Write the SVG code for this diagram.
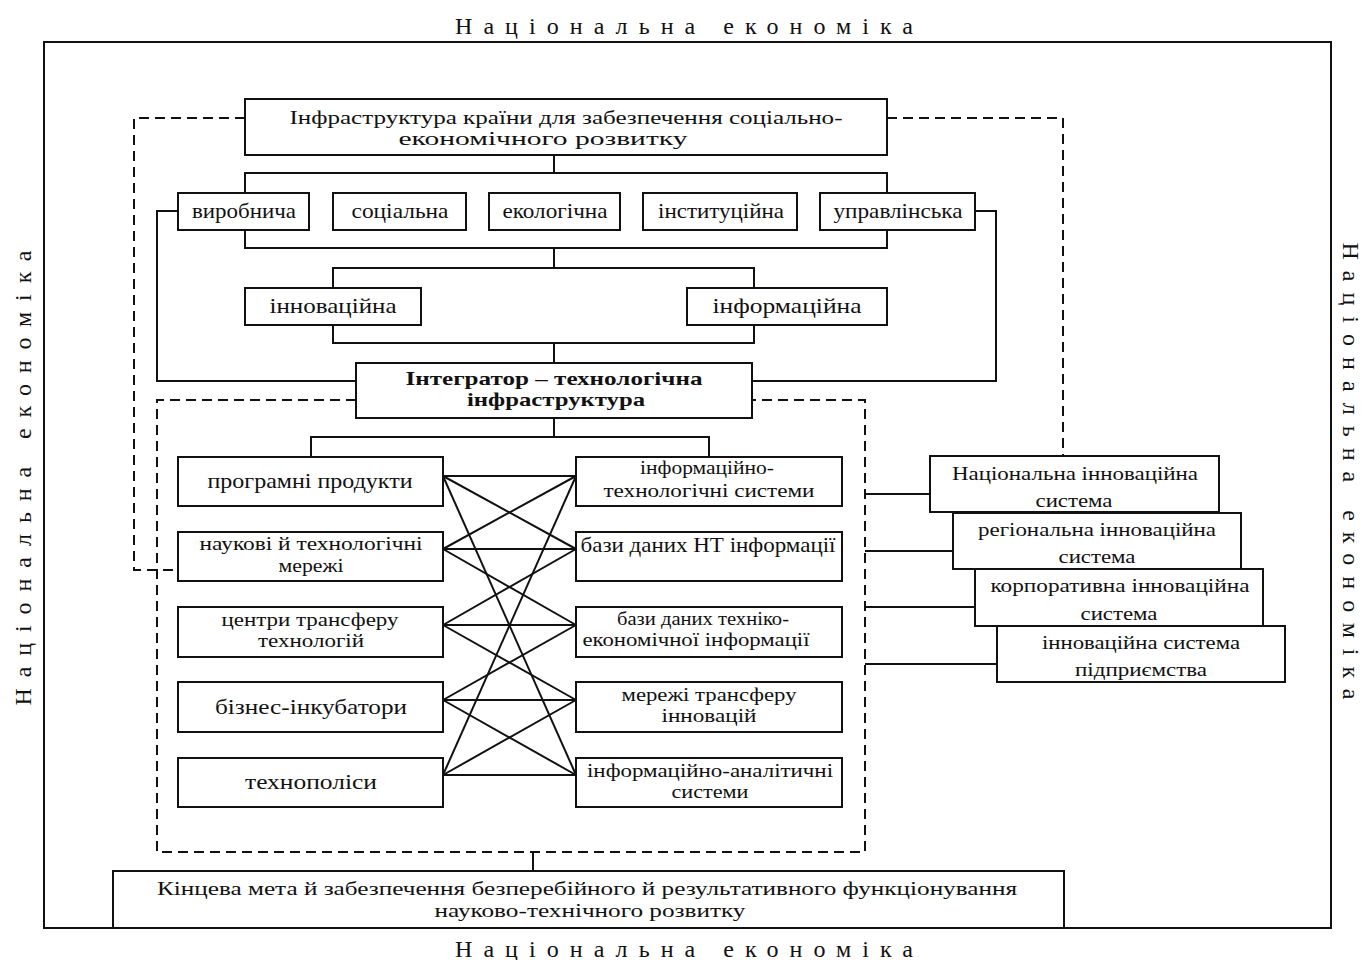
<svg xmlns="http://www.w3.org/2000/svg" width="1365" height="960" viewBox="0 0 1365 960">
<style>
.b{fill:#fff;stroke:#111;stroke-width:2}
.l{fill:none;stroke:#111;stroke-width:2}
.d{fill:none;stroke:#111;stroke-width:2;stroke-dasharray:10 6}
.x{stroke:#111;stroke-width:2}
text{font-family:"Liberation Serif","Times New Roman",serif;font-size:21px;fill:#111;text-anchor:middle}
text.s{font-size:19px}
.t{font-size:24px}
.bo{font-weight:bold}
</style>
<rect width="1365" height="960" fill="#fff"/>
<g id="frame">
<rect x="44" y="42" width="1287" height="886" class="l"/>
<text class="t" x="684" y="34" textLength="458" lengthAdjust="spacing">Національна економіка</text>
<text class="t" x="684" y="957" textLength="458" lengthAdjust="spacing">Національна економіка</text>
<text class="t" transform="translate(31,478) rotate(-90)" x="0" y="0" textLength="455" lengthAdjust="spacing">Національна економіка</text>
<text class="t" transform="translate(1343,471) rotate(90)" x="0" y="0" textLength="457" lengthAdjust="spacing">Національна економіка</text>
</g>
<g id="connectors">
<path class="d" d="M245 118H134V570H178"/>
<path class="d" d="M887 118H1063V456"/>
<path class="l" d="M554 155V173M245 193V173H887V193"/>
<path class="l" d="M245 230V248H887V230M554 248V268M333 288V268H754V288"/>
<path class="l" d="M333 325V343H754V325M554 343V363"/>
<path class="l" d="M178 211H157V381H356M975 211H996V381H752"/>
<path class="d" d="M356 400H157V852H865V400H752"/>
<path class="l" d="M554 418V437M311 457V437H709V457"/>
<path class="l" d="M533 852V871"/>
<path class="l" d="M865 494H930M865 551H953M865 607H975M865 664H997"/>
<g id="cross">
<line class="x" x1="443" y1="476" x2="576" y2="476"/>
<line class="x" x1="443" y1="476" x2="576" y2="549"/>
<line class="x" x1="443" y1="476" x2="576" y2="775"/>
<line class="x" x1="443" y1="549" x2="576" y2="476"/>
<line class="x" x1="443" y1="549" x2="576" y2="549"/>
<line class="x" x1="443" y1="549" x2="576" y2="625"/>
<line class="x" x1="443" y1="625" x2="576" y2="549"/>
<line class="x" x1="443" y1="625" x2="576" y2="625"/>
<line class="x" x1="443" y1="625" x2="576" y2="700"/>
<line class="x" x1="443" y1="700" x2="576" y2="625"/>
<line class="x" x1="443" y1="700" x2="576" y2="700"/>
<line class="x" x1="443" y1="700" x2="576" y2="775"/>
<line class="x" x1="443" y1="775" x2="576" y2="700"/>
<line class="x" x1="443" y1="775" x2="576" y2="775"/>
<line class="x" x1="443" y1="775" x2="576" y2="476"/>
</g>
</g>
<g id="n-infra">
<rect class="b" x="245" y="99" width="642" height="56"/>
<text class="s" x="566" y="124" font-size="20" textLength="553" lengthAdjust="spacingAndGlyphs">Інфраструктура країни для забезпечення соціально-</text>
<text class="s" x="543" y="145" textLength="289" lengthAdjust="spacingAndGlyphs">економічного розвитку</text>
</g>
<g id="n-vyrob"><rect class="b" x="178" y="193" width="131" height="37"/><text x="244" y="218" textLength="104" lengthAdjust="spacingAndGlyphs">виробнича</text></g>
<g id="n-soc"><rect class="b" x="333" y="193" width="133" height="37"/><text x="400" y="218" textLength="97" lengthAdjust="spacingAndGlyphs">соціальна</text></g>
<g id="n-eko"><rect class="b" x="489" y="193" width="131" height="37"/><text x="555" y="218" textLength="105" lengthAdjust="spacingAndGlyphs">екологічна</text></g>
<g id="n-inst"><rect class="b" x="643" y="193" width="154" height="37"/><text x="721" y="218" textLength="126" lengthAdjust="spacingAndGlyphs">інституційна</text></g>
<g id="n-upr"><rect class="b" x="820" y="193" width="155" height="37"/><text x="898" y="218" textLength="129" lengthAdjust="spacingAndGlyphs">управлінська</text></g>
<g id="n-innov"><rect class="b" x="245" y="288" width="176" height="37"/><text x="333" y="313" textLength="127" lengthAdjust="spacingAndGlyphs">інноваційна</text></g>
<g id="n-inform"><rect class="b" x="687" y="288" width="200" height="37"/><text x="787" y="313" textLength="149" lengthAdjust="spacingAndGlyphs">інформаційна</text></g>
<g id="n-integr">
<rect class="b" x="356" y="363" width="396" height="55"/>
<text class="s bo" x="554" y="385" textLength="297" lengthAdjust="spacingAndGlyphs">Інтегратор – технологічна</text>
<text class="s bo" x="556" y="406" textLength="178" lengthAdjust="spacingAndGlyphs">інфраструктура</text>
</g>
<g id="n-prog"><rect class="b" x="178" y="457" width="265" height="49"/><text x="310" y="488" textLength="205" lengthAdjust="spacingAndGlyphs">програмні продукти</text></g>
<g id="n-nauk"><rect class="b" x="178" y="532" width="265" height="49"/><text class="s" x="311" y="550" textLength="223" lengthAdjust="spacingAndGlyphs">наукові й технологічні</text><text class="s" x="311" y="572" textLength="65" lengthAdjust="spacingAndGlyphs">мережі</text></g>
<g id="n-centr"><rect class="b" x="178" y="607" width="265" height="50"/><text class="s" x="310" y="626" textLength="177" lengthAdjust="spacingAndGlyphs">центри трансферу</text><text class="s" x="311" y="647" textLength="106" lengthAdjust="spacingAndGlyphs">технологій</text></g>
<g id="n-bizn"><rect class="b" x="178" y="682" width="265" height="50"/><text x="311" y="714" textLength="192" lengthAdjust="spacingAndGlyphs">бізнес-інкубатори</text></g>
<g id="n-tehnop"><rect class="b" x="178" y="758" width="265" height="49"/><text x="311" y="789" textLength="132" lengthAdjust="spacingAndGlyphs">технополіси</text></g>
<g id="n-itsys"><rect class="b" x="576" y="457" width="266" height="49"/><text class="s" x="707" y="474" textLength="134" lengthAdjust="spacingAndGlyphs">інформаційно-</text><text class="s" x="709" y="497" textLength="211" lengthAdjust="spacingAndGlyphs">технологічні системи</text></g>
<g id="n-bdnt"><rect class="b" x="576" y="532" width="266" height="49"/><text x="708" y="552" textLength="255" lengthAdjust="spacingAndGlyphs">бази даних НТ інформації</text></g>
<g id="n-bdte"><rect class="b" x="576" y="607" width="266" height="50"/><text class="s" x="703" y="625" textLength="172" lengthAdjust="spacingAndGlyphs">бази даних техніко-</text><text class="s" x="696" y="646" textLength="227" lengthAdjust="spacingAndGlyphs">економічної інформації</text></g>
<g id="n-mtr"><rect class="b" x="576" y="682" width="266" height="50"/><text class="s" x="709" y="701" textLength="175" lengthAdjust="spacingAndGlyphs">мережі трансферу</text><text class="s" x="709" y="722" textLength="95" lengthAdjust="spacingAndGlyphs">інновацій</text></g>
<g id="n-ias"><rect class="b" x="576" y="758" width="266" height="49"/><text class="s" x="710" y="777" textLength="246" lengthAdjust="spacingAndGlyphs">інформаційно-аналітичні</text><text class="s" x="710" y="798" textLength="77" lengthAdjust="spacingAndGlyphs">системи</text></g>
<g id="n-nis"><rect class="b" x="930" y="456" width="289" height="56"/><text class="s" x="1075" y="480" textLength="246" lengthAdjust="spacingAndGlyphs">Національна інноваційна</text><text class="s" x="1074" y="507" textLength="77" lengthAdjust="spacingAndGlyphs">система</text></g>
<g id="n-ris"><rect class="b" x="953" y="513" width="288" height="56"/><text class="s" x="1097" y="536" textLength="238" lengthAdjust="spacingAndGlyphs">регіональна інноваційна</text><text class="s" x="1097" y="563" textLength="77" lengthAdjust="spacingAndGlyphs">система</text></g>
<g id="n-kis"><rect class="b" x="975" y="569" width="288" height="57"/><text class="s" x="1120" y="592" textLength="259" lengthAdjust="spacingAndGlyphs">корпоративна інноваційна</text><text class="s" x="1119" y="620" textLength="77" lengthAdjust="spacingAndGlyphs">система</text></g>
<g id="n-isp"><rect class="b" x="997" y="626" width="288" height="56"/><text class="s" x="1141" y="649" textLength="198" lengthAdjust="spacingAndGlyphs">інноваційна система</text><text class="s" x="1141" y="676" textLength="132" lengthAdjust="spacingAndGlyphs">підприємства</text></g>
<g id="n-goal">
<rect class="b" x="113" y="871" width="951" height="57"/>
<text class="s" x="587" y="895" textLength="860" lengthAdjust="spacingAndGlyphs">Кінцева мета й забезпечення безперебійного й результативного функціонування</text>
<text class="s" x="590" y="917" textLength="311" lengthAdjust="spacingAndGlyphs">науково-технічного розвитку</text>
</g>
</svg>
